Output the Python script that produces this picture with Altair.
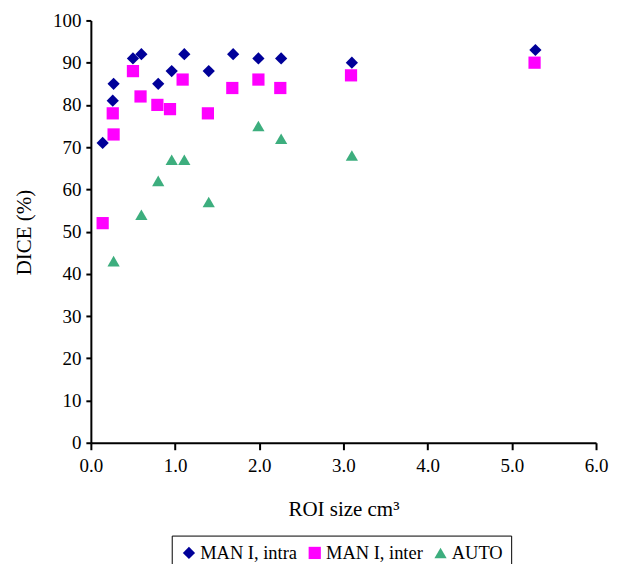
import altair as alt
import pandas as pd

series_names = ["MAN I, intra", "MAN I, inter", "AUTO"]
series_shapes = ["diamond", "square", "triangle-up"]
series_colors = ["#000099", "#FF00FF", "#3DAE7E"]

intra_x = [0.14, 0.26, 0.27, 0.50, 0.60, 0.80, 0.96, 1.11, 1.40, 1.69, 1.99, 2.26, 3.10, 5.28]
intra_y = [71, 81, 85, 91, 92, 85, 88, 92, 88, 92, 91, 91, 90, 93]

inter_x = [0.14, 0.26, 0.27, 0.50, 0.59, 0.79, 0.94, 1.09, 1.39, 1.68, 1.99, 2.25, 3.09, 5.27]
inter_y = [52, 78, 73, 88, 82, 80, 79, 86, 78, 84, 86, 84, 87, 90]

auto_x = [0.27, 0.60, 0.80, 0.96, 1.11, 1.40, 1.99, 2.26, 3.10]
auto_y = [43, 54, 62, 67, 67, 57, 75, 72, 68]

x_ticks = [0, 1, 2, 3, 4, 5, 6]
y_ticks = [0, 10, 20, 30, 40, 50, 60, 70, 80, 90, 100]

rows = []
for name, xs, ys in zip(series_names, [intra_x, inter_x, auto_x], [intra_y, inter_y, auto_y]):
    for a, b in zip(xs, ys):
        rows.append({"series": name, "roi": a, "dice": b})
df = pd.DataFrame(rows)

FONT = "Liberation Serif"

chart = alt.Chart(df).mark_point(filled=True, size=150, opacity=1, strokeWidth=0).encode(
    x=alt.X("roi:Q",
            scale=alt.Scale(domain=[0, 6], nice=False, zero=False),
            axis=alt.Axis(values=x_ticks, format=".1f", title="ROI size cm³",
                          grid=False, tickSize=7, labelPadding=7, labelFlush=False,
                          titleY=67, titleBaseline="middle", titleFontSize=21)),
    y=alt.Y("dice:Q",
            scale=alt.Scale(domain=[0, 100], nice=False),
            axis=alt.Axis(values=y_ticks, format="d", title="DICE (%)",
                          grid=False, tickSize=5, labelPadding=5, labelFlush=False,
                          titleX=-66, titleY=212, titleBaseline="middle", titleFontSize=21)),
    color=alt.Color("series:N",
                    scale=alt.Scale(domain=series_names, range=series_colors),
                    legend=alt.Legend(title=None, orient="none", legendX=81, legendY=516,
                                      direction="horizontal", strokeColor="black",
                                      padding=8, symbolSize=150, labelOffset=2,
                                      columnPadding=8, labelFont=FONT, labelFontSize=18.5,
                                      labelColor="black", symbolStrokeWidth=0)),
    shape=alt.Shape("series:N",
                    scale=alt.Scale(domain=series_names, range=series_shapes)),
).properties(
    width=506,
    height=423,
    autosize=alt.AutoSizeParams(type="none"),
    padding={"left": 83, "top": 12, "right": 15, "bottom": 121},
).configure(
    font=FONT
).configure_view(
    stroke=None
).configure_axis(
    labelFont=FONT,
    titleFont=FONT,
    labelFontSize=19,
    labelColor="black",
    titleColor="black",
    titleFontWeight="normal",
    domainColor="black",
    domainWidth=2,
    tickColor="black",
    tickWidth=2,
)

chart.save("out.html", embed_options={"renderer": "svg", "actions": False})
